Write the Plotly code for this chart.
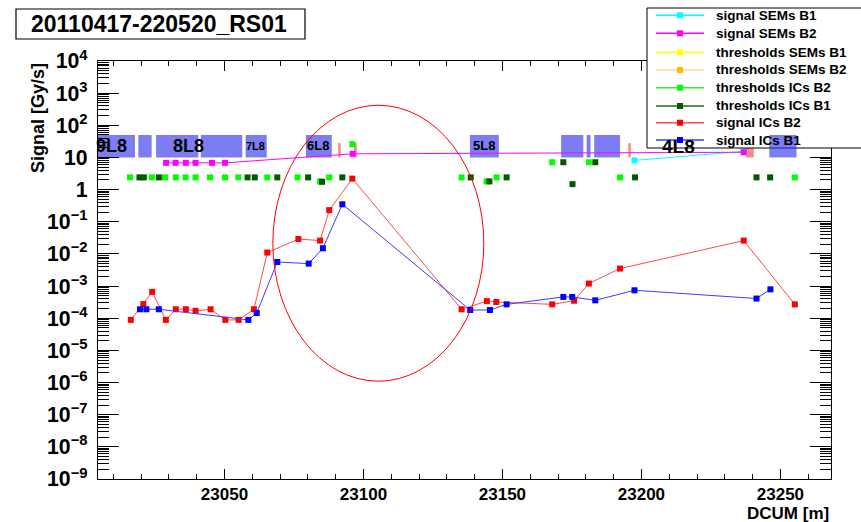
import math
import plotly.graph_objects as go

# ---- beam loss monitor readings along DCUM [m] ----
# signal ICs B2 (red)
dcum_ic_b2 = [23016.3, 23020.8, 23024.0, 23028.9, 23032.5, 23036.1, 23039.6, 23045.0,
              23050.3, 23055.1, 23060.6, 23065.4, 23076.6, 23084.4, 23087.7, 23096.0,
              23135.3, 23144.4, 23147.8, 23167.9, 23175.8, 23181.1, 23192.3, 23236.8,
              23255.2]
signal_ic_b2 = [8.9e-5, 2.75e-4, 6.6e-4, 8.9e-5, 1.9e-4, 1.9e-4, 1.7e-4, 1.9e-4,
                8.9e-5, 8.9e-5, 1.9e-4, 1.1e-2, 2.9e-2, 2.6e-2, 0.23, 2.2,
                1.9e-4, 3.4e-4, 3.2e-4, 2.7e-4, 3.5e-4, 1.2e-3, 3.5e-3, 2.6e-2,
                2.7e-4]

# signal ICs B1 (blue)
dcum_ic_b1 = [23019.6, 23021.9, 23026.4, 23058.6, 23061.6, 23069.0, 23080.3, 23085.4,
              23092.4, 23138.4, 23145.5, 23151.5, 23171.9, 23175.1, 23183.4, 23197.5,
              23241.4, 23246.4]
signal_ic_b1 = [1.9e-4, 1.9e-4, 1.9e-4, 8.9e-5, 1.45e-4, 5.6e-3, 5.0e-3, 1.5e-2,
                0.35, 1.8e-4, 1.8e-4, 2.7e-4, 4.6e-4, 4.6e-4, 3.6e-4, 7.4e-4,
                4.1e-4, 7.9e-4]

# signal SEMs
dcum_sem_b2 = [23029.0, 23032.4, 23036.1, 23039.6, 23045.5, 23050.2, 23096.1, 23236.8]
signal_sem_b2 = [6.8, 6.8, 6.8, 6.8, 6.8, 6.8, 13.0, 14.5]
dcum_sem_b1 = [23197.5, 23236.8]
signal_sem_b1 = [8.1, 15.5]

# thresholds SEMs (no monitors of this type in range)
dcum_thr_sem_b1 = []
thr_sem_b1 = []
dcum_thr_sem_b2 = []
thr_sem_b2 = []

# thresholds ICs B2 (light green)
dcum_thr_ic_b2 = [23016.0, 23023.9, 23028.6, 23032.5, 23036.0, 23039.6, 23044.8, 23050.2,
                  23055.0, 23065.4, 23076.3, 23084.4, 23087.7, 23096.0, 23135.3, 23144.3,
                  23147.9, 23167.9, 23181.1, 23192.3, 23255.2]
thr_ic_b2 = [2.4, 2.4, 2.4, 2.4, 2.4, 2.4, 2.4, 2.4,
             2.4, 2.4, 2.4, 1.8, 2.4, 26.0, 2.4, 1.8,
             2.4, 7.1, 7.1, 2.4, 2.4]

# thresholds ICs B1 (dark green)
dcum_thr_ic_b1 = [23019.4, 23021.0, 23026.4, 23058.3, 23060.9, 23069.0, 23080.1, 23085.1,
                  23092.4, 23138.6, 23145.3, 23151.5, 23171.9, 23175.2, 23183.4, 23197.7,
                  23241.4, 23246.3]
thr_ic_b1 = [2.4, 2.4, 2.4, 2.4, 2.4, 2.4, 2.4, 1.75,
             2.4, 2.4, 1.8, 2.4, 7.1, 1.48, 7.1, 2.4,
             2.4, 2.4]

# magnet / element regions (DCUM start, end) and their cell labels
element_x0 = [23001.3, 23019.0, 23025.4, 23041.5, 23057.6, 23079.3, 23138.3, 23171.1,
              23180.3, 23183.0, 23246.0]
element_x1 = [23017.8, 23023.8, 23040.6, 23056.4, 23065.2, 23088.6, 23148.7, 23179.1,
              23181.7, 23192.3, 23255.8]
element_lo, element_hi = 10.0, 50.0
marker_x0 = [23090.9, 23096.6, 23195.3, 23237.6]
marker_x1 = [23091.8, 23097.6, 23196.2, 23240.4]
marker_lo, marker_hi = 10.0, 28.0

cell_names = ["9L8", "8L8", "7L8", "6L8", "5L8", "4L8"]
cell_x = [23009.4, 23036.9, 23061.2, 23083.6, 23143.5, 23213.2]
cell_y = [22.5, 22.5, 22.5, 23.0, 23.5, 22.0]
cell_size = [18, 18, 11, 13, 13, 19]

# ---- page geometry (pixel -> paper) ----
W, H = 861, 522
L, R, T, B = 98, 30, 61, 43
PW, PH = W - L - R, H - T - B


def px(x):
    return (x - L) / PW


def py(y):
    return (H - B - y) / PH


FONT = "Liberation Sans, Arial, Helvetica, sans-serif"
BLOCK_FILL = "rgba(52,52,236,0.64)"

fig = go.Figure()

# legend rows: (label, line colour, marker colour)
legend_rows = []


def series(name, xs, ys, line_color, marker_color, lines=True):
    fig.add_trace(go.Scatter(
        x=xs, y=ys, name=name, mode="lines+markers" if lines else "markers",
        line=dict(color=line_color, width=1),
        marker=dict(symbol="square", size=6, color=marker_color),
    ))
    legend_rows.append((name, line_color, marker_color))


series("signal SEMs B1", dcum_sem_b1, signal_sem_b1, "#00ffff", "#00ffff")
series("signal SEMs B2", dcum_sem_b2, signal_sem_b2, "#ff00ff", "#ff00ff")
series("thresholds SEMs B1", dcum_thr_sem_b1, thr_sem_b1, "#ffff00", "#ffff00", lines=False)
series("thresholds SEMs B2", dcum_thr_sem_b2, thr_sem_b2, "#ffd98c", "#ffbb00", lines=False)
series("thresholds ICs B2", dcum_thr_ic_b2, thr_ic_b2, "#33ee33", "#00ff00", lines=False)
series("thresholds ICs B1", dcum_thr_ic_b1, thr_ic_b1, "#1e6e1e", "#005a00", lines=False)
series("signal ICs B2", dcum_ic_b2, signal_ic_b2, "#ff4a4a", "#ff0000")
series("signal ICs B1", dcum_ic_b1, signal_ic_b1, "#3a3aff", "#0000ff")

shapes = []
# element regions sit underneath the curves
for a, b in zip(element_x0[:-1], element_x1[:-1]):
    shapes.append(dict(type="rect", xref="x", yref="y", x0=a, x1=b,
                       y0=element_lo, y1=element_hi, layer="below",
                       fillcolor=BLOCK_FILL, line=dict(width=0)))
for a, b in zip(marker_x0, marker_x1):
    shapes.append(dict(type="rect", xref="x", yref="y", x0=a, x1=b,
                       y0=marker_lo, y1=marker_hi, layer="below",
                       fillcolor="rgba(255,70,70,0.65)", line=dict(width=0)))

# highlighted region
shapes.append(dict(type="circle", xref="x", yref="y", x0=23067.4, x1=23143.3,
                   y0=1.1e-6, y1=420, line=dict(color="#ff0000", width=1),
                   fillcolor="rgba(0,0,0,0)", layer="above"))

# title box
shapes.append(dict(type="rect", xref="paper", yref="paper",
                   x0=px(16), x1=px(305), y0=py(39), y1=py(9),
                   line=dict(color="black", width=1.2), fillcolor="white"))

# legend box with line + marker samples
leg_left, leg_top, leg_bottom = 647, 8, 148
row_y = [15.3, 33.3, 52.3, 70.0, 87.7, 106.0, 122.7, 140.0]
shapes.append(dict(type="rect", xref="paper", yref="paper", layer="above",
                   x0=px(leg_left), x1=px(W + 5), y0=py(leg_bottom), y1=py(leg_top),
                   line=dict(color="black", width=1), fillcolor="white"))
for (name, lc, mc), yy in zip(legend_rows, row_y):
    shapes.append(dict(type="line", xref="paper", yref="paper", layer="above",
                       x0=px(656), x1=px(704), y0=py(yy), y1=py(yy),
                       line=dict(color=lc, width=1.5)))
    shapes.append(dict(type="rect", xref="paper", yref="paper", layer="above",
                       x0=px(677), x1=px(683), y0=py(yy + 3), y1=py(yy - 3),
                       line=dict(width=0), fillcolor=mc))

# last element region overlaps the legend corner and is drawn over it
shapes.append(dict(type="rect", xref="x", yref="y", x0=element_x0[-1], x1=element_x1[-1],
                   y0=element_lo, y1=element_hi, layer="above",
                   fillcolor=BLOCK_FILL, line=dict(width=0)))
fig.update_layout(shapes=shapes)

annotations = []
for (name, lc, mc), yy in zip(legend_rows, row_y):
    annotations.append(dict(x=px(714), y=py(yy), xref="paper", yref="paper",
                            xanchor="left", yanchor="middle", text=name, showarrow=False,
                            font=dict(family=FONT, size=13.5, color="black", weight="bold")))

for name, x, y, s in zip(cell_names, cell_x, cell_y, cell_size):
    annotations.append(dict(x=x, y=math.log10(y), xref="x", yref="y", text=name,
                            xanchor="center", yanchor="middle", showarrow=False,
                            font=dict(family=FONT, size=s, color="black", weight="bold")))

annotations.append(dict(x=px(159), y=py(24), xref="paper", yref="paper",
                        xanchor="center", yanchor="middle",
                        text="20110417-220520_RS01", showarrow=False,
                        font=dict(family=FONT, size=23, color="black", weight="bold")))
annotations.append(dict(x=px(38), y=py(118), xref="paper", yref="paper",
                        xanchor="center", yanchor="middle",
                        text="Signal [Gy/s]", textangle=-90, showarrow=False,
                        font=dict(family=FONT, size=18, color="black", weight="bold")))
annotations.append(dict(x=px(831), y=py(513), xref="paper", yref="paper",
                        xanchor="right", yanchor="middle",
                        text="DCUM [m]", showarrow=False,
                        font=dict(family=FONT, size=17, color="black", weight="bold")))

fig.update_layout(
    annotations=annotations,
    width=W, height=H,
    margin=dict(l=L, r=R, t=T, b=B),
    paper_bgcolor="white",
    plot_bgcolor="white",
    font=dict(family=FONT, color="black"),
    showlegend=False,
    xaxis=dict(
        range=[23004.5, 23268.2],
        showgrid=False, zeroline=False,
        showline=True, linecolor="black", linewidth=1, mirror="ticks",
        ticks="inside", ticklen=10, tickcolor="black",
        tick0=23050, dtick=50, tickformat="d",
        minor=dict(ticks="inside", ticklen=5, tickcolor="black", dtick=10, showgrid=False),
        tickfont=dict(family=FONT, size=17, color="black", weight="bold"),
        ticklabelstandoff=0,
    ),
    yaxis=dict(
        type="log", range=[-9, 4],
        showgrid=False, zeroline=False,
        showline=True, linecolor="black", linewidth=1, mirror="ticks",
        ticks="inside", ticklen=21, tickcolor="black", dtick=1,
        exponentformat="power",
        minor=dict(ticks="inside", ticklen=11, tickcolor="black", dtick="D1", showgrid=False),
        tickfont=dict(family=FONT, size=17, color="black", weight="bold"),
        ticklabelstandoff=6,
    ),
)

fig.write_html("out.html")
